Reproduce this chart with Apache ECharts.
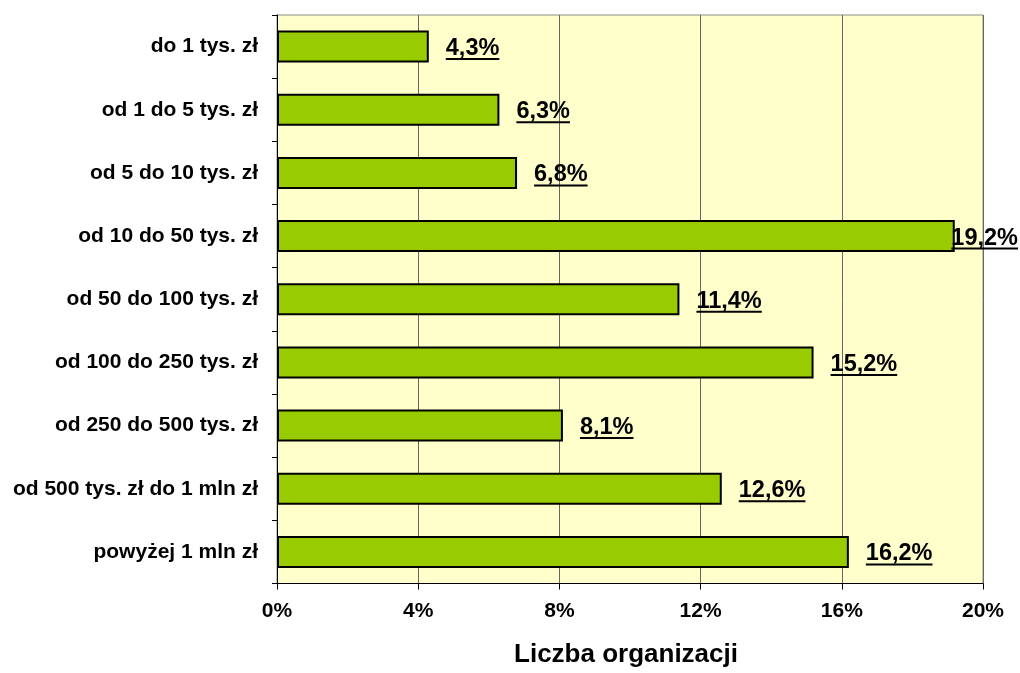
<!DOCTYPE html>
<html>
<head>
<meta charset="utf-8">
<style>
  html, body { margin: 0; padding: 0; background: #ffffff; }
  #chart { width: 1020px; height: 673px; }
</style>
<script src="https://cdn.jsdelivr.net/npm/echarts@6/dist/echarts.min.js"></script>
</head>
<body>
<div id="chart"></div>
<script>
const categories = ['do 1 tys. zł', 'od 1 do 5 tys. zł', 'od 5 do 10 tys. zł', 'od 10 do 50 tys. zł', 'od 50 do 100 tys. zł', 'od 100 do 250 tys. zł', 'od 250 do 500 tys. zł', 'od 500 tys. zł do 1 mln zł', 'powyżej 1 mln zł'];
const values = [4.3, 6.3, 6.8, 19.2, 11.4, 15.2, 8.1, 12.6, 16.2];
const xTicks = { min: 0, max: 20, interval: 4 };
const axisName = 'Liczba organizacji';

const FONT = 'Arial, "Liberation Sans", sans-serif';
const CHART_W = 1020;
const labelFont = 'bold 23.5px ' + FONT;
const measureCtx = document.createElement('canvas').getContext('2d');
measureCtx.font = labelFont;
function fmt(v) { return v.toFixed(1).replace('.', ',') + '%'; }

const chart = echarts.init(document.getElementById('chart'), null, { renderer: 'canvas' });
chart.setOption({
  animation: false,
  backgroundColor: '#ffffff',
  grid: {
    left: 277, right: 37, top: 15, bottom: 89.5,
    show: true, backgroundColor: '#FFFFCC', borderColor: '#8c8c8c', borderWidth: 1
  },
  xAxis: {
    type: 'value', min: xTicks.min, max: xTicks.max, interval: xTicks.interval,
    name: axisName, nameLocation: 'middle', nameGap: 58,
    nameTextStyle: { fontFamily: FONT, fontWeight: 'bold', fontSize: 26, color: '#000', padding: [0, 8, 0, 0] },
    axisLine: { show: true, lineStyle: { color: '#000', width: 1 } },
    axisTick: { show: true, length: 6, lineStyle: { color: '#000' } },
    axisLabel: { formatter: '{value}%', margin: 17, fontFamily: FONT, fontWeight: 'bold', fontSize: 21, color: '#000' },
    splitLine: { show: true, lineStyle: { color: '#666666', width: 1 } }
  },
  yAxis: {
    type: 'category', data: categories, inverse: true,
    axisLine: { show: true, lineStyle: { color: '#000', width: 1 } },
    axisTick: { show: true, length: 5, lineStyle: { color: '#000' } },
    axisLabel: { margin: 19, padding: [4, 0, 0, 0], fontFamily: FONT, fontWeight: 'bold', fontSize: 21, color: '#000' },
    splitLine: { show: false }
  },
  series: [
    {
      type: 'bar', data: values, barWidth: 32,
      itemStyle: { color: '#99CC00', borderColor: '#000', borderWidth: 2 },
      z: 2
    },
    {
      type: 'custom', clip: false, silent: true, z: 5,
      data: values.map((v, i) => [v, i]),
      encode: { x: 0, y: 1 },
      renderItem: function (params, api) {
        const v = api.value(0);
        const idx = api.value(1);
        const p = api.coord([v, idx]);
        const txt = fmt(v);
        const w = measureCtx.measureText(txt).width;
        const x = Math.min(p[0] + 17, CHART_W - w - 2);
        return {
          type: 'group',
          children: [
            { type: 'text', style: { text: txt, x: x, y: p[1] + 2, font: labelFont, fill: '#000', align: 'left', verticalAlign: 'middle' } },
            { type: 'rect', shape: { x: x, y: p[1] + 11.5, width: w, height: 2 }, style: { fill: '#000' } }
          ]
        };
      }
    }
  ]
});
</script>
</body>
</html>
